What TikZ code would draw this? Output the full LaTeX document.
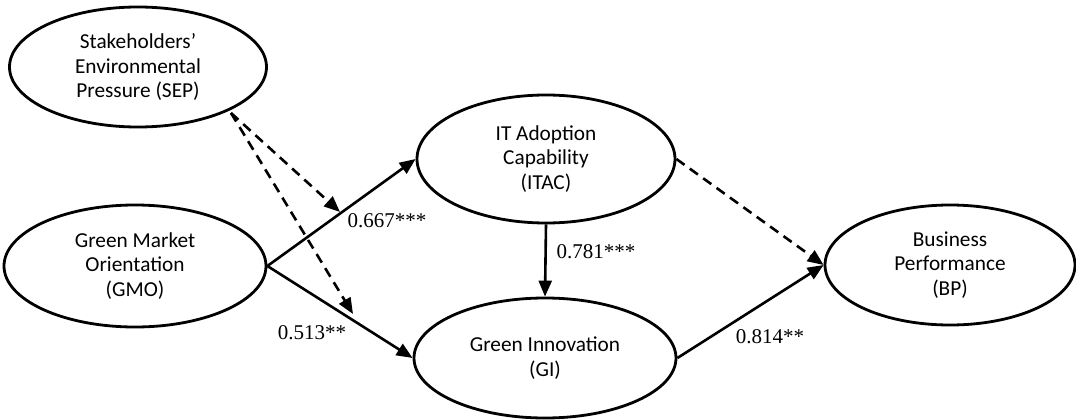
\documentclass[tikz,border=0pt]{standalone}
\usepackage{fontspec}
\setmainfont{Carlito}
\newfontfamily\coeffont{Liberation Serif}
\usetikzlibrary{shapes.geometric,arrows.meta}

\tikzset{
  construct/.style={ellipse, draw, line width=2.8pt, inner sep=0pt,
    align=center, font=\fontsize{21.3}{24.5}\selectfont},
  path/.style={line width=2.6pt, -{Triangle[length=16pt,width=13pt]}},
  modpath/.style={path, dash pattern=on 10pt off 6.5pt},
  coef/.style={font=\coeffont\fontsize{21}{24}\selectfont, inner sep=0pt}
}

\begin{document}
\begin{tikzpicture}[x=1pt,y=-1pt]
\useasboundingbox (0,0) rectangle (1076,420);

% constructs
\node[construct, minimum width=257pt, minimum height=120pt] (sep) at (138,67)
  {Stakeholders’\\Environmental\\Pressure (SEP)};
\node[construct, minimum width=262pt, minimum height=122pt] (gmo) at (135,266)
  {Green Market\\Orientation\\(GMO)};
\node[construct, minimum width=258pt, minimum height=128pt] (itac) at (546,159)
  {IT Adoption\\Capability\\(ITAC)};
\node[construct, minimum width=262pt, minimum height=120pt] (gi) at (545,358)
  {Green Innovation\\(GI)};
\node[construct, minimum width=250pt, minimum height=120pt] (bp) at (950,265)
  {Business\\Performance\\(BP)};

% moderation targets on the direct paths
\coordinate (sepout) at (231,113);
\coordinate (modA) at (340,212);
\coordinate (modB) at (353,314);

% direct paths
\draw[path] (gmo.east) -- (itac.west);
\draw[path] (gmo.east) -- (gi.west);
\draw[path] (itac.south) -- (gi.north);
\draw[path] (gi.east) -- (bp.west);

% moderation and mediated effect
\draw[modpath] (sepout) -- (modA);
\draw[modpath] (sepout) -- (modB);
\draw[modpath] (itac.east) -- (bp.west);

% coefficients
\node[coef] (c1) at (387,221) {0.667***};
\node[coef] (c2) at (312,333) {0.513**};
\node[coef] (c3) at (596,252) {0.781***};
\node[coef] (c4) at (770,337) {0.814**};
\end{tikzpicture}
\end{document}
